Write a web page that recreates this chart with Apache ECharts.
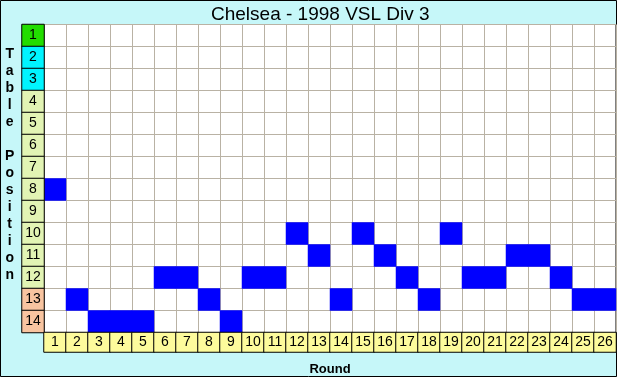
<!DOCTYPE html>
<html>
<head>
<meta charset="utf-8">
<script src="https://cdn.jsdelivr.net/npm/echarts@6/dist/echarts.min.js"></script>
<style>
  html, body { margin: 0; padding: 0; }
  #chart { width: 617px; height: 377px; }
</style>
</head>
<body>
<div id="chart"></div>
<script>
// table position after each round
var rounds = ['1','2','3','4','5','6','7','8','9','10','11','12','13','14','15','16','17','18','19','20','21','22','23','24','25','26'];
var positions = ['1','2','3','4','5','6','7','8','9','10','11','12','13','14'];
var placed = [8,13,14,14,14,12,12,13,14,12,12,10,11,13,10,11,12,13,10,12,12,11,11,12,13,13];

function zoneColor(p){
    if (p == 1) return '#22dd00';
    if (p <= 3) return '#00f4ff';
    if (p >= 13) return '#f8c4a0';
    return '#e2f4b4';
}

var chart = echarts.init(document.getElementById('chart'));

var cells = placed.map(function(p, i){ return [i, p - 1, 1]; });
var posCells = positions.map(function(p, i){
    return { value: [0, i, p], itemStyle: { color: zoneColor(+p) } };
});
var roundCells = rounds.map(function(r, i){ return [i, 0, r]; });

var font = 'Liberation Sans, Arial, sans-serif';

var option = {
    backgroundColor: '#c6f7f9',
    animation: false,
    title: {
        text: 'Chelsea - 1998 VSL Div 3',
        left: 206,
        top: 0,
        textStyle: { fontFamily: font, fontSize: 19, fontWeight: 'normal', color: '#000' }
    },
    grid: [
        { left: 44, top: 24.5, width: 572, height: 308, show: true, backgroundColor: '#fff', borderColor: '#000', borderWidth: 1 },
        { left: 22, top: 24.5, width: 22, height: 308 },
        { left: 44, top: 332.5, width: 572, height: 22 }
    ],
    xAxis: [
        { gridIndex: 0, type: 'category', data: rounds, axisLine: { show: false }, axisTick: { show: false }, axisLabel: { show: false },
          splitLine: { show: true, lineStyle: { color: '#b9b2a4', width: 1 } } },
        { gridIndex: 1, type: 'category', data: [''], show: false },
        { gridIndex: 2, type: 'category', data: rounds, axisLine: { show: false }, axisTick: { show: false }, axisLabel: { show: false },
          name: 'Round', nameLocation: 'middle', nameGap: 11,
          nameTextStyle: { fontFamily: font, fontSize: 13, fontWeight: 'bold', color: '#000' } }
    ],
    yAxis: [
        { gridIndex: 0, type: 'category', data: positions, inverse: true, axisLine: { show: false }, axisTick: { show: false }, axisLabel: { show: false },
          splitLine: { show: true, lineStyle: { color: '#b9b2a4', width: 1 } } },
        { gridIndex: 1, type: 'category', data: positions, inverse: true, show: false },
        { gridIndex: 2, type: 'category', data: [''], show: false }
    ],
    graphic: [
        { type: 'text', left: 5, top: 46, style: {
            text: 'Table Position'.split('').join('\n'),
            font: 'bold 14px ' + font, lineHeight: 17, fill: '#000', textAlign: 'center' } },
        { type: 'rect', shape: { x: 0.5, y: 0.5, width: 616, height: 376 }, style: { fill: null, stroke: '#000', lineWidth: 1 } }
    ],
    series: [
        {
            type: 'heatmap', xAxisIndex: 0, yAxisIndex: 0, data: cells,
            itemStyle: { color: '#0000ff' }, emphasis: { disabled: true }
        },
        {
            type: 'heatmap', xAxisIndex: 1, yAxisIndex: 1, data: posCells,
            itemStyle: { borderColor: '#000', borderWidth: 1 },
            label: { show: true, formatter: function(p){ return p.value[2]; }, fontFamily: font, fontSize: 14, color: '#000' },
            emphasis: { disabled: true }
        },
        {
            type: 'heatmap', xAxisIndex: 2, yAxisIndex: 2, data: roundCells,
            itemStyle: { color: '#fdfb9c', borderColor: '#000', borderWidth: 1 },
            label: { show: true, formatter: function(p){ return p.value[2]; }, fontFamily: font, fontSize: 14, color: '#000' },
            emphasis: { disabled: true }
        }
    ]
};
chart.setOption(option);
</script>
</body>
</html>
